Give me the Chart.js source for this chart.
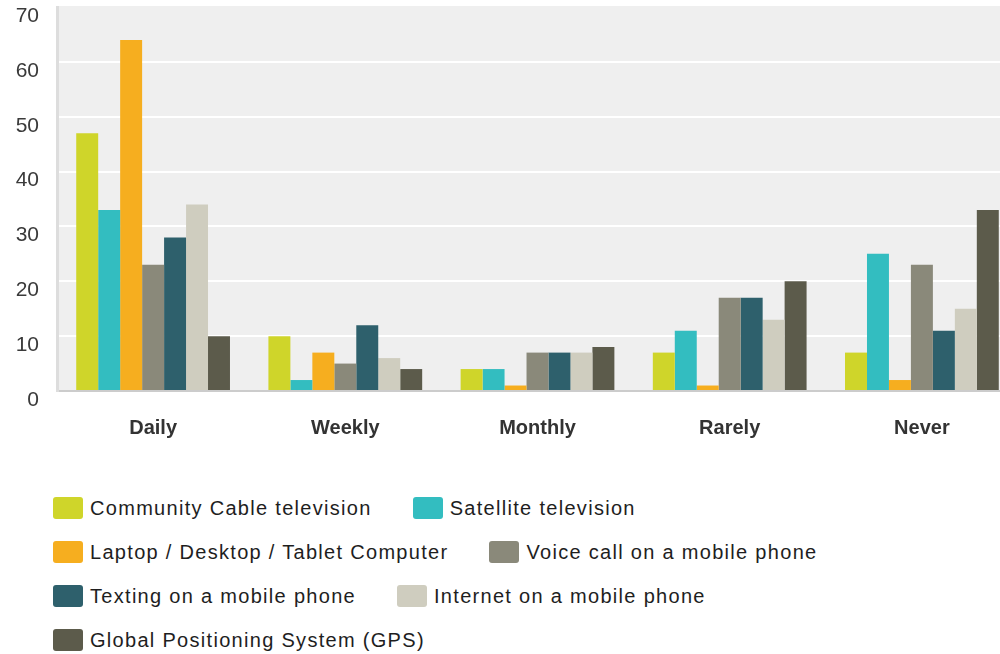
<!DOCTYPE html>
<html>
<head>
<meta charset="utf-8">
<script src="https://cdn.jsdelivr.net/npm/chart.js@4/dist/chart.umd.min.js"></script>
<style>
  html, body { margin: 0; padding: 0; overflow: hidden; background: #fff; }
  #wrap { position: relative; width: 1000px; height: 654px; overflow: hidden; }
  #chart { position: absolute; left: 0; top: 0; }
  #legend {
    position: absolute; left: 53px; top: 497px; width: 947px;
    display: flex; flex-wrap: wrap; row-gap: 22px;
    font-family: "Liberation Sans", Arial, sans-serif; font-size: 20px;
    letter-spacing: 1.3px; color: #1e1e1e;
  }
  .item { display: flex; align-items: center; height: 22px; margin-right: 41px; white-space: nowrap; }
  .swatch { width: 30px; height: 22px; border-radius: 3px; margin-right: 7px; flex: none; }
</style>
</head>
<body>
<div id="wrap">
  <canvas id="chart" width="1018" height="470"></canvas>
  <div id="legend"></div>
</div>
<script>
// categories and series (percent of respondents)
const categories = ['Daily', 'Weekly', 'Monthly', 'Rarely', 'Never'];
const seriesNames = [
  'Community Cable television',
  'Satellite television',
  'Laptop / Desktop / Tablet Computer',
  'Voice call on a mobile phone',
  'Texting on a mobile phone',
  'Internet on a mobile phone',
  'Global Positioning System (GPS)'
];
const communityCable = [47, 10, 4, 7, 7];
const satellite = [33, 2, 4, 11, 25];
const computer = [64, 7, 1, 1, 2];
const voiceCall = [23, 5, 7, 17, 23];
const texting = [28, 12, 7, 17, 11];
const mobileInternet = [34, 6, 7, 13, 15];
const gps = [10, 4, 8, 20, 33];
const yTicks = [0, 10, 20, 30, 40, 50, 60, 70];

const colors = ['#cfd52a', '#33bdc0', '#f6ae1f', '#8a897a', '#2e606c', '#cfcdbf', '#5c5b4b'];
const values = [communityCable, satellite, computer, voiceCall, texting, mobileInternet, gps];

const plotBg = {
  id: 'plotBg',
  beforeDraw(chart) {
    const { ctx, chartArea } = chart;
    ctx.save();
    ctx.fillStyle = '#efefef';
    ctx.fillRect(chartArea.left, chartArea.top - 1, chartArea.right - chartArea.left, chartArea.bottom - chartArea.top + 1);
    ctx.restore();
  }
};

const H = 470;

new Chart(document.getElementById('chart').getContext('2d'), {
  type: 'bar',
  data: {
    labels: categories,
    datasets: seriesNames.map((name, i) => ({
      label: name,
      data: values[i],
      backgroundColor: colors[i],
      borderWidth: 0,
      categoryPercentage: 0.8,
      barPercentage: 1.0
    }))
  },
  options: {
    responsive: false,
    animation: false,
    layout: { padding: { top: 7, left: 0, right: 0, bottom: 0 } },
    plugins: { legend: { display: false }, tooltip: { enabled: false } },
    scales: {
      x: {
        grid: { display: false, drawTicks: false },
        border: { display: true, color: '#cccccc', width: 2 },
        ticks: {
          padding: 25,
          color: '#333',
          font: { family: '"Liberation Sans", Arial, sans-serif', size: 20, weight: 'bold' }
        },
        afterFit(scale) {
          scale.height = H - 391;
          scale.paddingLeft = 0;
          scale.paddingRight = 0;
        }
      },
      y: {
        min: 0,
        max: 70,
        afterBuildTicks(scale) { scale.ticks = yTicks.map(v => ({ value: v })); },
        grid: {
          drawTicks: false,
          lineWidth: 2,
          color: (c) => (c.tick && (c.tick.value === 0 || c.tick.value === 70)) ? 'rgba(0,0,0,0)' : '#ffffff'
        },
        border: { display: true, color: '#dddddd', width: 3 },
        ticks: {
          padding: 18,
          labelOffset: 9,
          color: '#3a3a3a',
          font: { family: '"Liberation Sans", Arial, sans-serif', size: 21 }
        },
        afterFit(scale) {
          scale.width = 57;
          scale.paddingTop = 0;
          scale.paddingBottom = 0;
        }
      }
    }
  },
  plugins: [plotBg]
});

// legend built from the same series arrays
const legend = document.getElementById('legend');
seriesNames.forEach((name, i) => {
  const item = document.createElement('div');
  item.className = 'item';
  const sw = document.createElement('span');
  sw.className = 'swatch';
  sw.style.background = colors[i];
  const txt = document.createElement('span');
  txt.textContent = name;
  item.appendChild(sw);
  item.appendChild(txt);
  legend.appendChild(item);
});
</script>
</body>
</html>
